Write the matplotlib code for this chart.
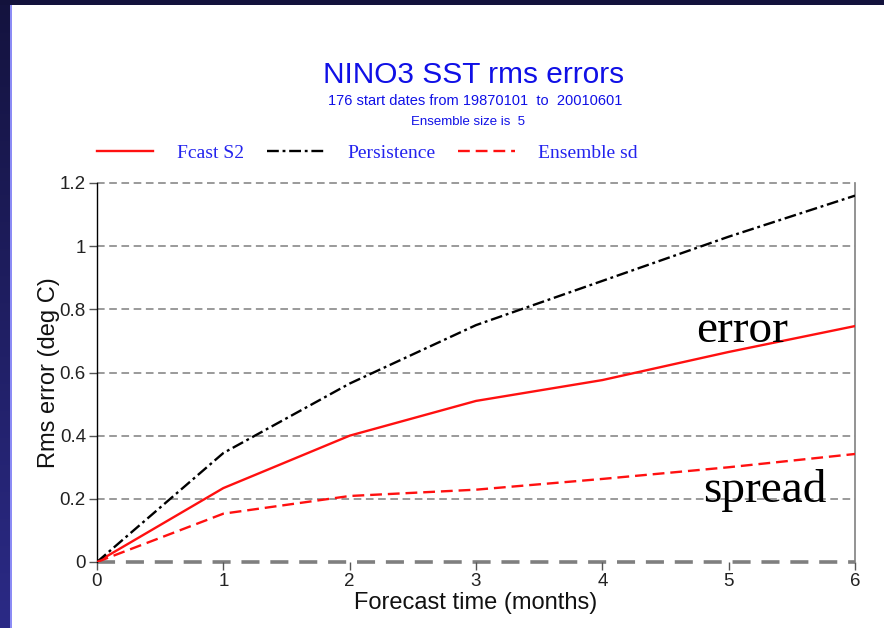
import matplotlib
matplotlib.use("Agg")
import matplotlib.pyplot as plt
import numpy as np
from matplotlib.patches import Rectangle
from matplotlib.colors import LinearSegmentedColormap

# ---- data ----
months = [0, 1, 2, 3, 4, 5, 6]
fcast_s2 = [0.0, 0.234, 0.40, 0.51, 0.576, 0.665, 0.747]
persistence = [0.0, 0.345, 0.565, 0.75, 0.89, 1.03, 1.16]
ensemble_sd = [0.0, 0.153, 0.209, 0.229, 0.263, 0.300, 0.342]
series_labels = ["Fcast S2", "Persistence", "Ensemble sd"]
yticks = [0, 0.2, 0.4, 0.6, 0.8, 1.0, 1.2]
ytick_labels = ["0", "0.2", "0.4", "0.6", "0.8", "1", "1.2"]
xticks = [0, 1, 2, 3, 4, 5, 6]

W, H = 884, 628
fig = plt.figure(figsize=(W / 100, H / 100), dpi=100)
fig.patch.set_facecolor("white")

# ---- slide frame decoration ----
fig.add_artist(Rectangle((0, 1 - 5 / H), 1, 5 / H, transform=fig.transFigure,
                         facecolor="#13123c", edgecolor="none", zorder=5))
gax = fig.add_axes([0, 0, 10 / W, 1 - 5 / H])
grad = np.linspace(0, 1, 256).reshape(-1, 1)
cmap = LinearSegmentedColormap.from_list("navy", ["#2b2a86", "#14133f"])
gax.imshow(grad, aspect="auto", cmap=cmap, origin="lower", extent=[0, 1, 0, 1])
gax.set_axis_off()
fig.add_artist(Rectangle((10 / W, 0), 1.6 / W, 1 - 5 / H, transform=fig.transFigure,
                         facecolor="#8c8cf5", edgecolor="none", zorder=5))

# ---- main axes ----
x0, x1 = 97, 855
y0, y1 = 562, 183
ax = fig.add_axes([x0 / W, 1 - y0 / H, (x1 - x0) / W, (y0 - y1) / H])
ax.set_xlim(0, 6)
ax.set_ylim(0, 1.2)

grid_c = "#7f7f7f"
for yv in yticks:
    lw = 2.6 if yv == 0 else 1.1
    ax.axhline(yv, color=grid_c, lw=lw, dashes=(5, 3), zorder=1, clip_on=False)

ax.plot(months, fcast_s2, color="#ff1010", lw=1.7, label=series_labels[0], zorder=3)
ax.plot(months, persistence, color="black", lw=1.7, dashes=(5, 1.6, 1.2, 1.6),
        label=series_labels[1], zorder=3)
ax.plot(months, ensemble_sd, color="#ff1010", lw=1.7, dashes=(5, 2.5),
        label=series_labels[2], zorder=3)

for s in ["top", "bottom"]:
    ax.spines[s].set_visible(False)
ax.spines["left"].set_color("black")
ax.spines["left"].set_linewidth(1.0)
ax.spines["right"].set_color("#808080")
ax.spines["right"].set_linewidth(1.2)

tick_font = {"family": ["Liberation Sans", "DejaVu Sans"], "size": 13.5}
ax.set_yticks(yticks)
ax.set_yticklabels(ytick_labels, fontdict=tick_font, color="#222222")
ax.set_xticks(xticks)
ax.set_xticklabels([str(v) for v in xticks], fontdict=tick_font, color="#222222")
ax.tick_params(axis="both", direction="out", length=6, width=1.0, color="#555555", pad=2)

lab_font = {"family": ["Liberation Sans", "DejaVu Sans"], "size": 17}
ax.set_xlabel("Forecast time (months)", fontdict=lab_font, color="#111111", labelpad=1)
ax.set_ylabel("Rms error (deg C)", fontdict=lab_font, color="#111111", labelpad=0)

# annotations
ax.text(5.106, 0.696, "error", family=["Liberation Serif", "DejaVu Serif"], fontsize=34,
        ha="center", va="baseline", color="black", zorder=4)
ax.text(5.284, 0.19, "spread", family=["Liberation Serif", "DejaVu Serif"], fontsize=34,
        ha="center", va="baseline", color="black", zorder=4)

# legend
leg = ax.legend(loc="center left", bbox_to_anchor=(0.0, 1.079), ncol=3, frameon=False,
                prop={"family": ["Liberation Serif", "DejaVu Serif"], "size": 14},
                handlelength=2.9, handletextpad=1.2, columnspacing=1.2,
                borderpad=0, borderaxespad=0)
for t in leg.get_texts():
    t.set_color("#2323ee")

# titles
blue = "#1010e6"
fig.text(474 / W, 1 - 75 / H, "NINO3 SST rms errors", ha="center", va="center",
         family=["Liberation Sans", "DejaVu Sans"], fontsize=21.5, color=blue)
fig.text(475 / W, 1 - 101 / H, "176 start dates from 19870101  to  20010601", ha="center",
         va="center", family=["Liberation Sans", "DejaVu Sans"], fontsize=10.5, color=blue)
fig.text(468 / W, 1 - 122 / H, "Ensemble size is  5", ha="center", va="center",
         family=["Liberation Sans", "DejaVu Sans"], fontsize=9.5, color=blue)

fig.savefig("out.png", dpi=100)
